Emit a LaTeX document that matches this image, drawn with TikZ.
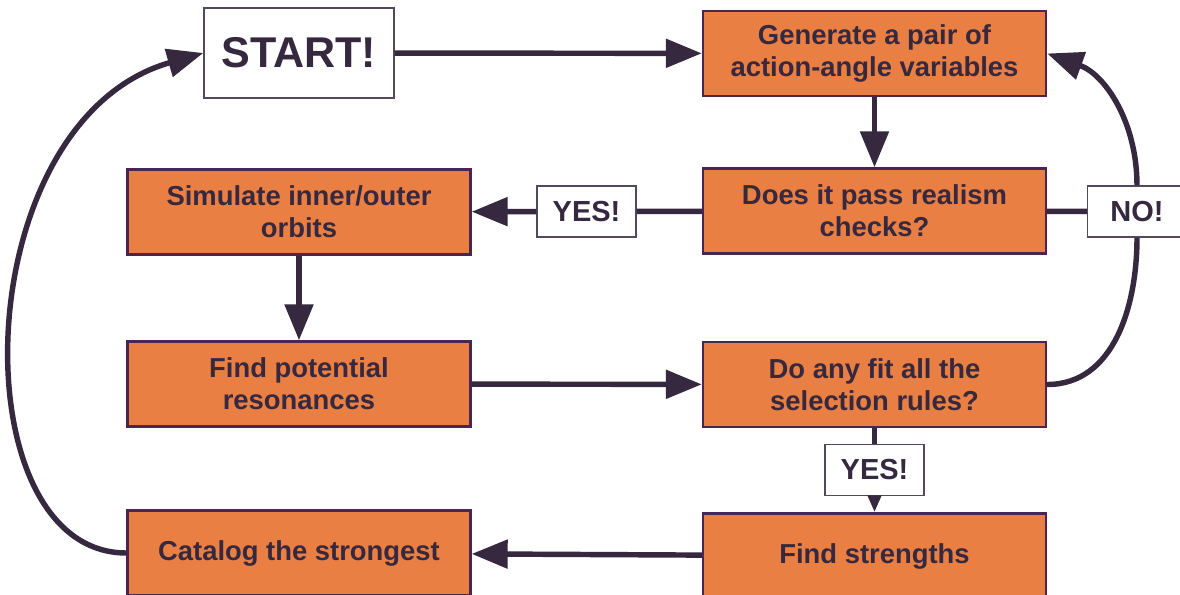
\documentclass[tikz,border=0pt]{standalone}
\usepackage{fontspec}
\setmainfont{Liberation Sans}
\usepackage{xcolor}
\usepackage{tikz}
\usetikzlibrary{arrows.meta}
\definecolor{ink}{HTML}{35283F}
\definecolor{boxorange}{HTML}{E97F42}
\definecolor{boxedge}{HTML}{4B2452}
\tikzstyle{proc} = [draw=boxedge, line width=1.4pt, fill=boxorange, text=ink, align=center, inner sep=0pt,
  minimum width=6.86cm, minimum height=1.7cm, font=\bfseries\fontsize{15.6}{18.2}\selectfont]
\tikzstyle{tag} = [draw=ink!85, line width=0.8pt, fill=white, text=ink, inner sep=0pt,
  minimum width=1.98cm, minimum height=1.02cm, font=\bfseries\fontsize{16.5}{19}\selectfont]
\tikzstyle{flow} = [draw=ink, line width=3.1pt, -{Triangle[length=0.72cm, width=0.56cm]}]
\tikzstyle{shortflow} = [draw=ink, line width=3.1pt, -{Triangle[length=0.34cm, width=0.26cm]}]
\tikzstyle{link} = [draw=ink, line width=3.1pt]

\begin{document}
\begin{tikzpicture}[x=0.02cm, y=0.02cm]
  \useasboundingbox (0,0) rectangle (1180,-595);
  \node[tag, minimum width=3.8cm, minimum height=1.8cm, font=\bfseries\fontsize{24.5}{28}\selectfont] (start) at (299,-53) {START!};
  \node[proc] (gen) at (874.5,-53.5) {Generate a pair of\\action-angle variables};
  \node[proc] (check) at (874.5,-211) {Does it pass realism\\checks?};
  \node[proc] (sim) at (299,-212) {Simulate inner/outer\\orbits};
  \node[proc] (res) at (299,-384) {Find potential\\resonances};
  \node[proc] (fit) at (874.5,-384.5) {Do any fit all the\\selection rules?};
  \node[proc] (str) at (874.5,-556) {Find strengths};
  \node[proc] (cat) at (299,-553) {Catalog the strongest};
  \node[tag] (yes1) at (586.5,-211.5) {YES!};
  \node[tag] (no) at (1137,-211.5) {NO!};
  \node[tag] (yes2) at (874.5,-470) {YES!};

  \draw[flow] (start) -- (gen);
  \draw[flow] (gen) -- (check);
  \draw[flow] (check) -- (yes1) -- (sim);
  \draw[flow] (sim) -- (res);
  \draw[flow] (res) -- (fit);
  \draw[link] (fit) -- (yes2);
  \draw[shortflow] (yes2) -- (str);
  \draw[flow] (str) -- (cat);
  \draw[link] (check) -- (no);
  \draw[link] (fit.east) to[out=0, in=-90] (no.south);
  \draw[flow] (no.north) to[out=90, in=-20] (gen.east);
  \draw[flow] (cat.west) to[out=180, in=196, out looseness=0.85, in looseness=1.25] (start.west);
\end{tikzpicture}
\end{document}
